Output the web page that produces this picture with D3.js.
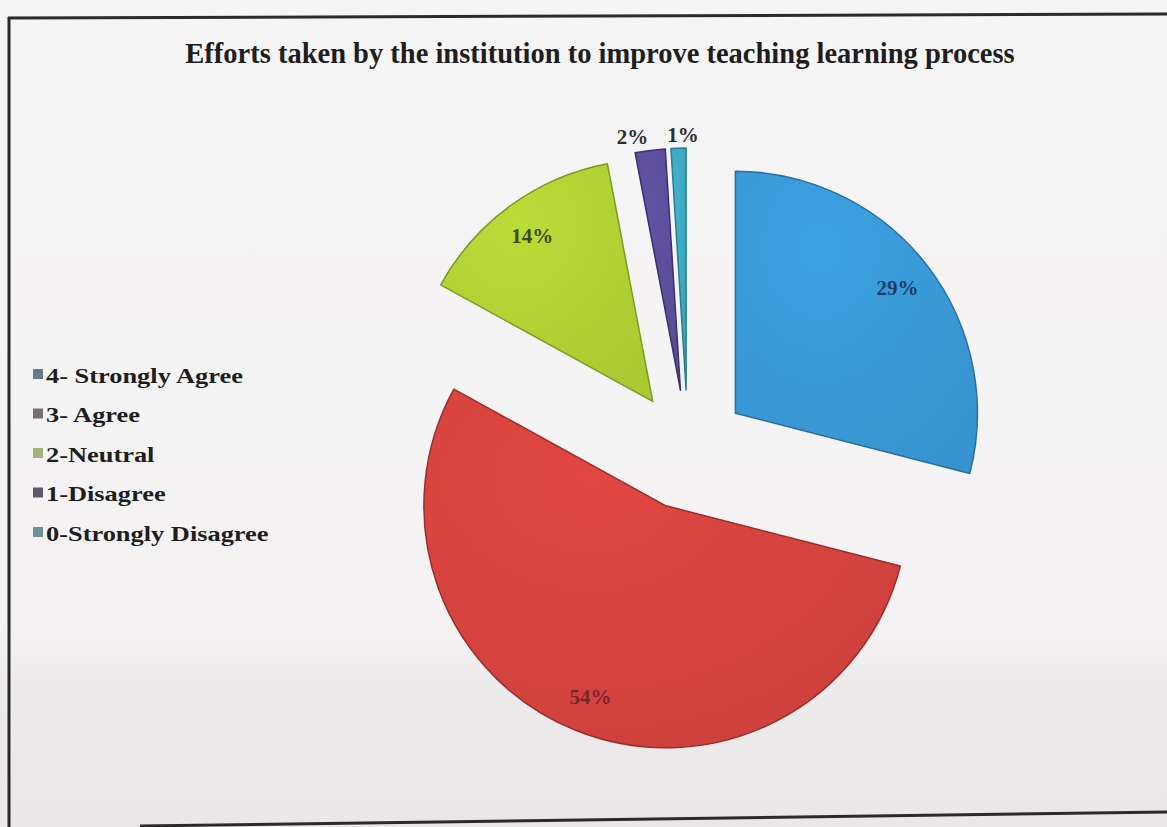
<!DOCTYPE html>
<html>
<head>
<meta charset="utf-8">
<script src="https://cdn.jsdelivr.net/npm/d3@7/dist/d3.min.js"></script>
<style>
  html, body { margin: 0; padding: 0; background: #f4f2f2; }
  svg { display: block; }
</style>
</head>
<body>
<svg id="chart" width="1167" height="827"></svg>
<script>
// Survey responses
const categories = ["4- Strongly Agree", "3- Agree", "2-Neutral", "1-Disagree", "0-Strongly Disagree"];
const percents = [29, 54, 14, 2, 1];
const sliceColors = ["#3999d6", "#d5433f", "#b1d134", "#5c4e9a", "#3ea8c0"];
const edgeColors = ["#2a6fa0", "#9a2e2c", "#7f9a22", "#3b3070", "#2a7f90"];
const legendColors = ["#6b7a8a", "#7b6c76", "#a3b276", "#5d586c", "#6e9294"];
const labelColors = ["#1d3c66", "#7a2626", "#3e4a14", "#2e2e2e", "#2e2e2e"];
const title = "Efforts taken by the institution to improve teaching learning process";

const W = 1167, H = 827;
const svg = d3.select("#chart");
const serif = "Liberation Serif, Times New Roman, serif";

// Page background with a slightly darker lower band
const defs = svg.append("defs");
const bg = defs.append("linearGradient").attr("id", "bg").attr("x1", 0).attr("y1", 0).attr("x2", 0).attr("y2", 1);
bg.append("stop").attr("offset", "0%").attr("stop-color", "#f6f5f5");
bg.append("stop").attr("offset", "76%").attr("stop-color", "#f4f2f3");
bg.append("stop").attr("offset", "82%").attr("stop-color", "#eeebec");
bg.append("stop").attr("offset", "100%").attr("stop-color", "#ebe7e9");
svg.append("rect").attr("width", W).attr("height", H).attr("fill", "url(#bg)");

// Slice gradients (slightly lighter towards the top-left)
sliceColors.forEach((c, i) => {
  const g = defs.append("radialGradient").attr("id", "sg" + i)
    .attr("cx", "35%").attr("cy", "25%").attr("r", "90%");
  g.append("stop").attr("offset", "0%").attr("stop-color", d3.color(c).brighter(0.15));
  g.append("stop").attr("offset", "100%").attr("stop-color", d3.color(c).darker(0.12));
});

// Frame
const frame = svg.append("g").attr("fill", "none").attr("stroke", "#2b2b2b");
frame.append("line").attr("x1", 8).attr("y1", 18).attr("x2", 1167).attr("y2", 14).attr("stroke-width", 3);
frame.append("line").attr("x1", 9).attr("y1", 17).attr("x2", 9).attr("y2", 827).attr("stroke-width", 3);
frame.append("line").attr("x1", 140).attr("y1", 826).attr("x2", 1167).attr("y2", 812).attr("stroke-width", 3);

// Title
svg.append("text")
  .attr("x", 600).attr("y", 63)
  .attr("text-anchor", "middle")
  .attr("font-family", serif)
  .attr("font-weight", "bold")
  .attr("font-size", 28.5)
  .attr("fill", "#1e1e1e")
  .text(title);

// Exploded pie
const cx = 688, cy = 450, radius = 242, explode = 60;
const data = categories.map((c, i) => ({ name: c, value: percents[i], i }));
const pie = d3.pie().value(d => d.value).sort(null).startAngle(0).endAngle(2 * Math.PI);
const arc = d3.arc().innerRadius(0).outerRadius(radius);
const arcs = pie(data);
const mid = d => (d.startAngle + d.endAngle) / 2;

const pieG = svg.append("g").attr("transform", `translate(${cx},${cy})`);
const slice = pieG.selectAll("g.slice").data(arcs).join("g")
  .attr("class", "slice")
  .attr("transform", d => `translate(${explode * Math.sin(mid(d))},${-explode * Math.cos(mid(d))})`);

slice.append("path")
  .attr("d", arc)
  .attr("fill", d => `url(#sg${d.index})`)
  .attr("stroke", d => edgeColors[d.index])
  .attr("stroke-width", 1.5)
  .attr("stroke-linejoin", "round");

// Percent labels: inside big slices, above the thin ones
const labelR = d => d.data.value >= 5 ? 205 : 256;
const labelDx = [0, 0, 0, -16, 5];
slice.append("text")
  .attr("x", d => labelR(d) * Math.sin(mid(d)) + labelDx[d.index])
  .attr("y", d => -labelR(d) * Math.cos(mid(d)))
  .attr("dy", "0.35em")
  .attr("text-anchor", "middle")
  .attr("font-family", serif)
  .attr("font-weight", "bold")
  .attr("font-size", 21)
  .attr("fill", d => labelColors[d.index])
  .text(d => d.data.value + "%");

// Legend
const legend = svg.append("g").attr("transform", "translate(33,375)");
const item = legend.selectAll("g").data(categories).join("g")
  .attr("transform", (d, i) => `translate(0,${i * 39.5})`);
item.append("rect")
  .attr("x", 0).attr("y", -6).attr("width", 10).attr("height", 10)
  .attr("fill", (d, i) => legendColors[i]);
item.append("text")
  .attr("transform", "translate(13,0) scale(1.2,1)")
  .attr("dy", "0.35em")
  .attr("font-family", serif)
  .attr("font-weight", "bold")
  .attr("font-size", 22)
  .attr("fill", "#1e1e1e")
  .text(d => d);
</script>
</body>
</html>
